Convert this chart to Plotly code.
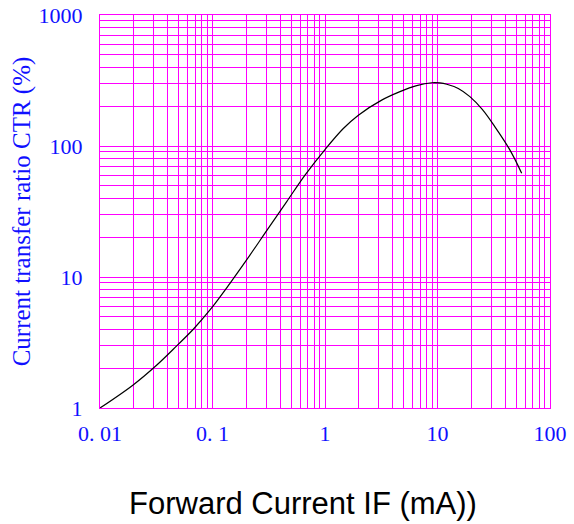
import plotly.graph_objects as go

# Data (Forward current IF in mA vs CTR in %)
if_ma = [0.01, 0.0197, 0.032, 0.0448, 0.0675, 0.095, 0.143, 0.201, 0.313, 0.457,
         0.664, 1.0, 1.455, 1.98, 3.19, 4.64, 6.53, 8.88, 10.5, 12.1, 15.3, 19.4,
         25.0, 32.4, 44.1, 56.0]
ctr_pct = [1.0, 1.5, 2.13, 2.81, 3.99, 5.6, 8.95, 13.5, 23.5, 37.6,
           60.0, 94, 136, 172, 224, 260, 289, 304, 303, 296, 275, 238,
           190, 140, 93, 62]

x_tickvals = [0.01, 0.1, 1, 10, 100]
x_ticktext = ["0. 01", "0. 1", "1", "10", "100"]
y_tickvals = [1, 10, 100, 1000]
y_ticktext = ["1", "10", "100", "1000"]

x_title = "Forward Current IF (mA))"
y_title = "Current transfer ratio CTR (%)"

GRID = "#FF00FF"
BLUE = "#1010FF"
SERIF = "Liberation Serif, DejaVu Serif, serif"

fig = go.Figure()
fig.add_trace(go.Scatter(
    x=if_ma, y=ctr_pct, mode="lines",
    line=dict(color="black", width=1.2, shape="spline", smoothing=1.0),
    showlegend=False, hoverinfo="skip",
))

fig.update_layout(
    width=574, height=524,
    margin=dict(l=100, r=24, t=15, b=116),
    paper_bgcolor="white", plot_bgcolor="white",
    xaxis=dict(
        type="log", range=[-2, 2],
        tickmode="array", tickvals=x_tickvals, ticktext=x_ticktext,
        tickfont=dict(family=SERIF, size=22, color=BLUE),
        ticks="", showgrid=True, gridcolor=GRID, gridwidth=1,
        minor=dict(dtick="D1", showgrid=True, gridcolor=GRID, gridwidth=1, ticks=""),
        showline=True, linecolor=GRID, linewidth=1, mirror=True,
        zeroline=False,
        ticklabelstandoff=6,
        ticklabeloverflow="allow",
        automargin=False,
    ),
    yaxis=dict(
        type="log", range=[0, 3],
        tickmode="array", tickvals=y_tickvals, ticktext=y_ticktext,
        tickfont=dict(family=SERIF, size=22, color=BLUE),
        ticks="", showgrid=True, gridcolor=GRID, gridwidth=1,
        minor=dict(dtick="D1", showgrid=True, gridcolor=GRID, gridwidth=1, ticks=""),
        showline=True, linecolor=GRID, linewidth=1, mirror=True,
        zeroline=False,
        ticklabelstandoff=12,
        ticklabeloverflow="allow",
        title=dict(text=y_title,
                   font=dict(family=SERIF, size=25, color=BLUE),
                   standoff=0),
        automargin=False,
    ),
    annotations=[dict(
        text=x_title, xref="paper", yref="paper", x=0.451, y=0,
        xanchor="center", yanchor="middle", yshift=-95, showarrow=False,
        font=dict(family="Liberation Sans, Arial, sans-serif", size=31, color="black"),
    )],
)

# remove the browser's default 8px page margin so the figure fills the window
fig.write_html("out.html", config={"displayModeBar": False},
               post_script="document.body.style.margin='0';")
